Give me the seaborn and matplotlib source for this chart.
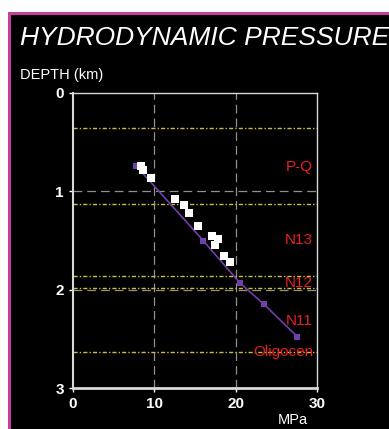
import matplotlib
matplotlib.use("Agg")
import matplotlib.pyplot as plt
import seaborn as sns
import pandas as pd
from matplotlib.patches import Rectangle

# Measured pressure points (white squares)
meas_mpa = [8.3, 8.6, 9.6, 12.6, 13.7, 14.3, 15.4, 17.1, 17.8, 17.4, 18.6, 19.3]
meas_depth = [0.74, 0.78, 0.86, 1.08, 1.14, 1.22, 1.35, 1.45, 1.48, 1.55, 1.66, 1.72]

# Hydrostatic trend line (purple)
trend_mpa = [7.75, 16.0, 20.5, 23.5, 27.6]
trend_depth = [0.74, 1.50, 1.93, 2.15, 2.48]

# Stratigraphic horizons
horizon_depths = [0.36, 1.13, 1.86, 1.98, 2.63]
zone_labels = ["P-Q", "N13", "N12", "N11", "Oligocen"]
zone_label_depths = [0.75, 1.50, 1.93, 2.32, 2.63]

x_ticks = [0, 10, 20, 30]
y_ticks = [0, 1, 2, 3]

sns.set_style("dark")
plt.rcParams['font.family'] = ['Liberation Sans', 'DejaVu Sans']

fig = plt.figure(figsize=(3.89, 4.29), dpi=100)
fig.patch.set_facecolor("white")
W, H = 389, 429
# black panel with magenta border (right/bottom edges run off the canvas)
bg = Rectangle((9 / W, -0.05), 1.1, 1.05 - 13 / H, transform=fig.transFigure,
               facecolor="black", edgecolor="#c0409a", linewidth=2.2, zorder=-10)
fig.patches.append(bg)

ax = fig.add_axes([73 / W, 1 - 388 / H, 244 / W, 295 / H])
ax.set_zorder(1)
ax.set_facecolor("black")

# grid
for gx in [10, 20]:
    ax.axvline(gx, color="#909090", lw=0.9, ls=(0, (7, 4)), zorder=1)
for gy in [1, 2]:
    ax.axhline(gy, color="#909090", lw=0.9, ls=(0, (7, 4)), zorder=1)

for hd in horizon_depths:
    ax.axhline(hd, color="#c8c040", lw=1.0, ls=(0, (3, 1.5, 1, 1.5)), zorder=2)

df_t = pd.DataFrame({"MPa": trend_mpa, "depth": trend_depth})
sns.lineplot(data=df_t, x="MPa", y="depth", ax=ax, color="#7040a8", lw=1.2,
             marker="s", markersize=5, markeredgewidth=0, sort=False, zorder=3)

df_m = pd.DataFrame({"MPa": meas_mpa, "depth": meas_depth})
sns.scatterplot(data=df_m, x="MPa", y="depth", ax=ax, color="white", marker="s",
                s=38, linewidth=0, zorder=4)

for lab, d in zip(zone_labels, zone_label_depths):
    ax.text(29.5, d, lab, color="#e82020", fontsize=11, ha="right", va="center", zorder=5)

ax.set_xlim(0, 30)
ax.set_ylim(3, 0)
ax.set_xticks(x_ticks)
ax.set_yticks(y_ticks)
ax.set_xlabel("")
ax.set_ylabel("")
ax.grid(False)
ax.tick_params(colors="white", labelcolor="white", labelsize=11, length=3, width=1,
               left=True, bottom=True)
for lbl in ax.get_xticklabels() + ax.get_yticklabels():
    lbl.set_fontweight("bold")
for s in ax.spines.values():
    s.set_color("#d8d8d8")
    s.set_linewidth(1.0)
ax.spines["bottom"].set_linewidth(2.0)
ax.spines["left"].set_linewidth(1.5)

fig.text(20 / W, 1 - 38 / H, "HYDRODYNAMIC PRESSURE", color="white", fontsize=19,
         style="italic", ha="left", va="center")
fig.text(20 / W, 1 - 75 / H, "DEPTH (km)", color="white", fontsize=10.5, ha="left", va="center")
fig.text(293 / W, 1 - 420 / H, "MPa", color="white", fontsize=10.5, ha="center", va="center")

fig.savefig("out.png", dpi=100, facecolor=fig.get_facecolor())
